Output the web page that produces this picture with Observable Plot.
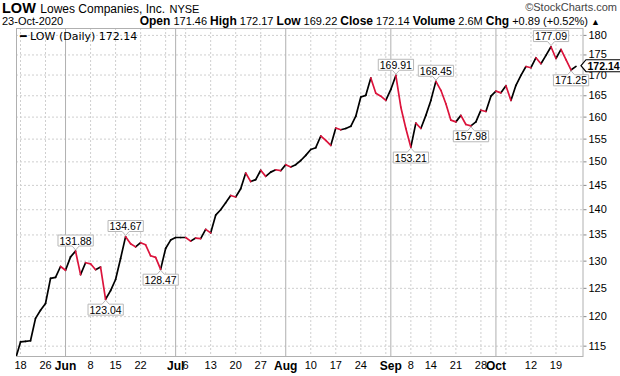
<!DOCTYPE html>
<html><head><meta charset="utf-8">
<script src="https://cdn.jsdelivr.net/npm/d3@7"></script>
<script src="https://cdn.jsdelivr.net/npm/@observablehq/plot@0.6"></script>
<style>
html,body{margin:0;padding:0;background:#fff;}
body{width:620px;height:376px;overflow:hidden;font-family:"Liberation Sans",Arial,sans-serif;color:#000;}
#hdr{position:relative;height:26px;width:620px;}
#hdr .a{position:absolute;left:2px;top:1px;white-space:nowrap;line-height:14px;}
#hdr .a b{font-size:14.5px;}
#hdr .a span{font-size:12px;}
#hdr .a small{font-size:11px;}
#hdr .c{position:absolute;right:3px;top:1px;font-size:11px;color:#444;white-space:nowrap;line-height:13px;}
#hdr .d{position:absolute;left:2px;top:15.5px;font-size:11px;white-space:nowrap;line-height:11px;}
#hdr .e{position:absolute;right:20px;top:15.5px;font-size:11px;white-space:nowrap;line-height:11px;}
#hdr .e b{font-size:12px;}
</style></head><body>
<div id="hdr">
  <div class="a"><b>LOW</b> <span>Lowes Companies, Inc.</span> <small>NYSE</small></div>
  <div class="c">©StockCharts.com</div>
  <div class="d">23-Oct-2020</div>
  <div class="e"><b>Open</b> 171.46 <b>High</b> 172.17 <b>Low</b> 169.22 <b>Close</b> 172.14 <b>Volume</b> 2.6M <b>Chg</b> +0.89 (+0.52%) <span style="font-size:9px">▲</span></div>
</div>
<div id="chart"></div>
<script>
const dates = [
"2020-05-15","2020-05-18","2020-05-19","2020-05-20","2020-05-21","2020-05-22",
"2020-05-26","2020-05-27","2020-05-28","2020-05-29",
"2020-06-01","2020-06-02","2020-06-03","2020-06-04","2020-06-05",
"2020-06-08","2020-06-09","2020-06-10","2020-06-11","2020-06-12",
"2020-06-15","2020-06-16","2020-06-17","2020-06-18","2020-06-19",
"2020-06-22","2020-06-23","2020-06-24","2020-06-25","2020-06-26",
"2020-06-29","2020-06-30","2020-07-01","2020-07-02",
"2020-07-06","2020-07-07","2020-07-08","2020-07-09","2020-07-10",
"2020-07-13","2020-07-14","2020-07-15","2020-07-16","2020-07-17",
"2020-07-20","2020-07-21","2020-07-22","2020-07-23","2020-07-24",
"2020-07-27","2020-07-28","2020-07-29","2020-07-30","2020-07-31",
"2020-08-03","2020-08-04","2020-08-05","2020-08-06","2020-08-07",
"2020-08-10","2020-08-11","2020-08-12","2020-08-13","2020-08-14",
"2020-08-17","2020-08-18","2020-08-19","2020-08-20","2020-08-21",
"2020-08-24","2020-08-25","2020-08-26","2020-08-27","2020-08-28",
"2020-08-31","2020-09-01","2020-09-02","2020-09-03","2020-09-04",
"2020-09-08","2020-09-09","2020-09-10","2020-09-11",
"2020-09-14","2020-09-15","2020-09-16","2020-09-17","2020-09-18",
"2020-09-21","2020-09-22","2020-09-23","2020-09-24","2020-09-25",
"2020-09-28","2020-09-29","2020-09-30","2020-10-01","2020-10-02",
"2020-10-05","2020-10-06","2020-10-07","2020-10-08","2020-10-09",
"2020-10-12","2020-10-13","2020-10-14","2020-10-15","2020-10-16",
"2020-10-19","2020-10-20","2020-10-21","2020-10-22","2020-10-23"];

const closes = [
112.9,115.7,115.8,115.9,119.7,121.1,
122.3,126.8,127.0,129.0,
128.3,130.8,131.88,127.5,129.7,
129.5,128.4,128.9,123.04,124.6,
126.6,130.5,134.67,133.3,132.7,
133.5,133.1,131.0,130.7,128.47,
132.4,134.0,134.5,134.5,
134.5,133.8,134.4,134.3,136.1,
135.4,138.9,140.0,141.4,142.9,
142.6,144.3,147.6,145.8,146.2,
148.2,146.9,147.8,148.3,148.1,
149.4,148.9,149.4,150.3,151.4,
152.7,153.1,155.7,154.7,153.6,
157.5,157.1,157.4,157.9,160.2,
164.7,165.1,169.3,165.6,164.9,
163.9,166.5,169.91,162.3,157.4,
153.21,158.6,157.4,160.4,
163.9,168.45,166.3,163.1,159.3,
158.9,160.4,158.3,157.98,158.9,
161.6,161.3,164.9,166.1,165.7,
167.4,163.9,167.5,169.9,172.1,
171.8,174.3,172.8,174.9,177.09,
174.1,176.4,173.8,171.25,172.14];

// x-axis: weekly labels, month labels, unlabeled grid dates
const weekTickDates = ["2020-05-18","2020-05-26","2020-06-08","2020-06-15","2020-06-22","2020-07-06","2020-07-13","2020-07-20","2020-07-27","2020-08-10","2020-08-17","2020-08-24","2020-09-08","2020-09-14","2020-09-21","2020-09-28","2020-10-12","2020-10-19"];
const weekTickLabels = ["18","26","8","15","22","6","13","20","27","10","17","24","8","14","21","28","12","19"];
const monthTickDates = ["2020-06-01","2020-07-01","2020-08-03","2020-09-01","2020-10-01"];
const monthTickLabels = ["Jun","Jul","Aug","Sep","Oct"];
const gridOnlyDates = ["2020-06-29","2020-08-31","2020-10-05"];
const yTicks = [115,120,125,130,135,140,145,150,155,160,165,170,175,180];

// annotated highs / lows
const highDates = ["2020-06-03","2020-06-17","2020-09-02","2020-09-15","2020-10-16"];
const highValues = [131.88,134.67,169.91,168.45,177.09];
const lowDates = ["2020-06-11","2020-06-26","2020-09-08","2020-09-24","2020-10-22"];
const lowValues = [123.04,128.47,153.21,157.98,171.25];

const idx = d => dates.indexOf(d);
const segs = closes.slice(1).map((v, k) => ({x1: k, y1: closes[k], x2: k + 1, y2: v, up: v >= closes[k]}));
const highs = highDates.map((d, k) => ({i: idx(d), v: highValues[k]}));
const lows = lowDates.map((d, k) => ({i: idx(d), v: lowValues[k]}));
const last = [{i: closes.length - 1, v: closes[closes.length - 1]}];
const weekIdx = weekTickDates.map(idx);
const monthIdx = monthTickDates.map(idx);
const gridWeek = weekIdx.concat(gridOnlyDates.map(idx));

const chart = Plot.plot({
  width: 620,
  height: 350,
  marginTop: 2,
  marginBottom: 20,
  marginLeft: 16,
  marginRight: 37.5,
  style: {fontFamily: "Liberation Sans, Arial, sans-serif", fontSize: "11px", background: "#fff", overflow: "visible"},
  x: {type: "linear", domain: [0.2, 113.4]},
  y: {type: "log", domain: [113.3, 181.8]},
  marks: [
    Plot.gridY(yTicks, {stroke: "#cfcfcf", strokeOpacity: 1, strokeDasharray: "2,2"}),
    Plot.gridX(gridWeek, {stroke: "#cfcfcf", strokeOpacity: 1, strokeDasharray: "2,2"}),
    Plot.gridX(monthIdx, {stroke: "#b0b0b0", strokeOpacity: 1}),
    Plot.frame({stroke: "#b0b0b0"}),
    Plot.axisX({ticks: weekIdx, tickFormat: (d, k) => weekTickLabels[k], tickSize: 0, tickPadding: 5, fontSize: 11, label: null}),
    Plot.axisX({ticks: monthIdx, tickFormat: (d, k) => monthTickLabels[k], tickSize: 0, tickPadding: 5, fontSize: 12, fontWeight: "bold", label: null}),
    Plot.axisY({anchor: "right", ticks: yTicks, tickFormat: d => String(d), tickSize: 3, tickPadding: 2.5, fontSize: 11, label: null, stroke: "#888"}),
    Plot.link(segs.filter(d => d.up), {x1: "x1", y1: "y1", x2: "x2", y2: "y2", stroke: "#000", strokeWidth: 1.7, strokeLinecap: "round", clip: true}),
    Plot.link(segs.filter(d => !d.up), {x1: "x1", y1: "y1", x2: "x2", y2: "y2", stroke: "#dc143c", strokeWidth: 1.7, strokeLinecap: "round", clip: true}),
    Plot.text(["━ LOW (Daily) 172.14"], {frameAnchor: "top-left", dx: 3.5, dy: 4, fontFamily: "DejaVu Sans", fontSize: 11, textAnchor: "start", lineAnchor: "top"}),
    Plot.text(highs, {x: "i", y: "v", text: d => d.v.toFixed(2), dy: -10, fontSize: 10.5}),
    Plot.text(lows, {x: "i", y: "v", text: d => d.v.toFixed(2), dy: 11, fontSize: 10.5}),
    Plot.text(last, {x: "i", y: "v", text: d => d.v.toFixed(2), dx: 11.5, textAnchor: "start", fontSize: 10.5, fontWeight: "bold"})
  ]
});
document.getElementById("chart").append(chart);
const NS = "http://www.w3.org/2000/svg";
const aboveSet = new Set(highValues.map(v => v.toFixed(2)));
const belowSet = new Set(lowValues.map(v => v.toFixed(2)));
const lastStr = closes[closes.length - 1].toFixed(2);
const texts = Array.from(chart.querySelectorAll("text"));
const lastText = texts.filter(t => t.textContent === lastStr).pop();
texts.forEach(t => {
  const s = t.textContent;
  let kind = null;
  if (t === lastText) kind = "last";
  else if (aboveSet.has(s)) kind = "above";
  else if (belowSet.has(s)) kind = "below";
  if (!kind) return;
  const b = t.getBBox();
  const l = b.x - 1.5, r = b.x + b.width + 1.5, tp = b.y + 0.5, bt = b.y + b.height - 0.5;
  const cx = b.x + b.width / 2;
  let d;
  if (kind === "above") d = `M${l},${tp}H${r}V${bt}H${cx+3.5}L${cx},${bt+4}L${cx-3.5},${bt}H${l}Z`;
  else if (kind === "below") d = `M${l},${tp}H${cx-3.5}L${cx},${tp-4}L${cx+3.5},${tp}H${r}V${bt}H${l}Z`;
  else { const my = (tp + bt) / 2; d = `M${l-5},${my}L${l},${tp-0.5}H${r+4}V${bt+0.5}H${l}Z`; }
  const p = document.createElementNS(NS, "path");
  p.setAttribute("d", d);
  p.setAttribute("fill", "#fff");
  p.setAttribute("stroke", kind === "last" ? "#000" : "#b8b8b8");
  p.setAttribute("stroke-width", kind === "last" ? "1.2" : "1");
  const tr = t.getAttribute("transform");
  if (tr) p.setAttribute("transform", tr);
  t.parentNode.insertBefore(p, t);
});
</script>
</body></html>
